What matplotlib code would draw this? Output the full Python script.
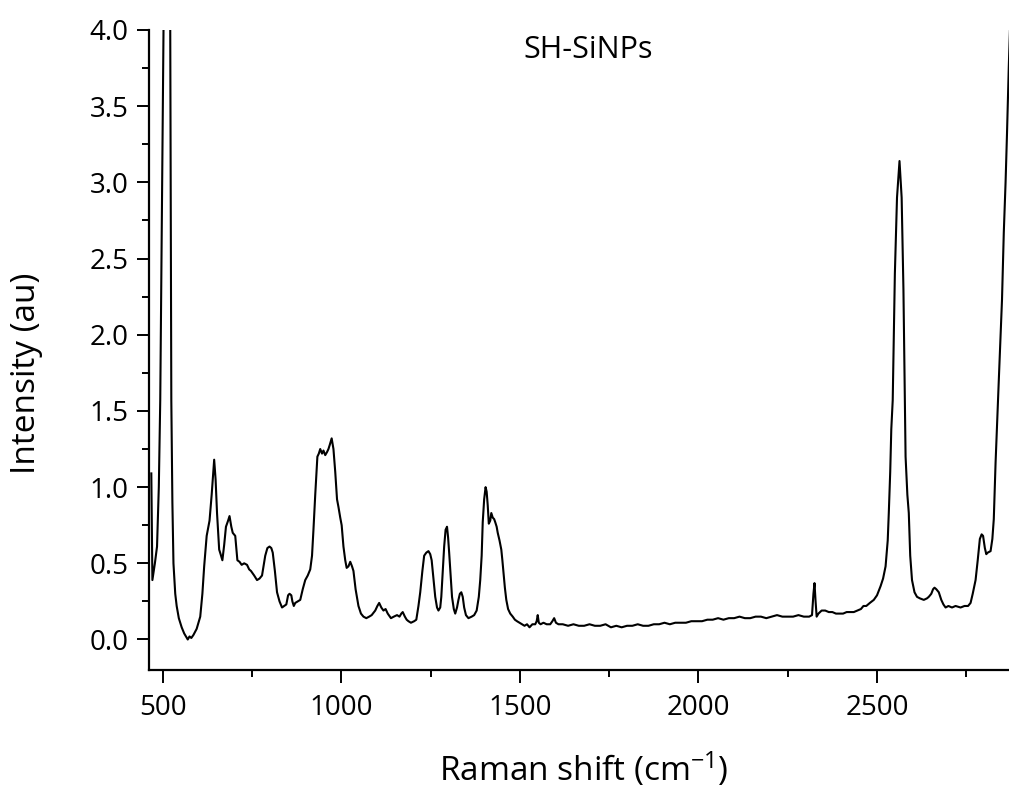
import matplotlib
matplotlib.use("Agg")
import matplotlib.pyplot as plt
from matplotlib.ticker import MultipleLocator, FormatStrFormatter

plt.rcParams['font.family'] = ['Open Sans', 'DejaVu Sans']
plt.rcParams['mathtext.default'] = 'regular'

# Raman spectrum of SH-SiNPs
raman_shift = [
    468, 471, 478, 484, 489, 493, 502, 511, 521, 524, 527, 530, 535, 539,
    545, 553, 560, 565, 570, 575, 580, 586, 595, 605, 611, 616, 623, 631,
    637, 644, 648, 652, 658, 662, 667, 672, 677, 683, 687, 692, 696, 703,
    709, 715, 721, 728, 736, 742, 747, 756, 764, 771, 778, 787, 793, 799,
    804, 808, 814, 820, 827, 834, 840, 846, 851, 855, 860, 863, 867, 871,
    878, 885, 892, 899, 906, 913, 918, 922, 927, 933, 937, 941, 946, 950,
    955, 960, 964, 968, 973, 978, 983, 988, 992, 997, 1001, 1006, 1011, 1015,
    1020, 1025, 1030, 1034, 1040, 1048, 1055, 1062, 1070, 1078, 1085, 1095, 1101, 1106,
    1112, 1118, 1124, 1130, 1139, 1147, 1156, 1163, 1168, 1172, 1178, 1183, 1188, 1195,
    1204, 1210, 1216, 1221, 1227, 1232, 1238, 1244, 1249, 1253, 1258, 1263, 1268, 1272,
    1277, 1280, 1284, 1288, 1292, 1296, 1299, 1302, 1306, 1310, 1315, 1319, 1324, 1328,
    1332, 1336, 1340, 1344, 1349, 1356, 1365, 1372, 1379, 1385, 1389, 1393, 1396, 1400,
    1404, 1407, 1410, 1413, 1417, 1420, 1424, 1428, 1431, 1435, 1438, 1443, 1448, 1451,
    1454, 1458, 1462, 1467, 1473, 1480, 1486, 1492, 1499, 1506, 1513, 1520, 1527, 1535,
    1543, 1547, 1550, 1553, 1558, 1566, 1575, 1585, 1591, 1596, 1601, 1608, 1620, 1635,
    1650, 1665, 1680, 1695, 1710, 1725, 1740, 1755, 1770, 1785, 1800, 1815, 1830, 1845,
    1860, 1875, 1890, 1905, 1920, 1935, 1950, 1965, 1980, 1995, 2010, 2025, 2040, 2055,
    2070, 2085, 2100, 2115, 2130, 2145, 2160, 2175, 2190, 2205, 2220, 2235, 2250, 2265,
    2280, 2295, 2310, 2318, 2322, 2325, 2328, 2331, 2336, 2345, 2355, 2365, 2375, 2385,
    2395, 2405, 2415, 2425, 2435, 2445, 2455, 2462, 2470, 2480, 2491, 2500, 2510, 2517,
    2524, 2530, 2533, 2537, 2540, 2544, 2550, 2556, 2563, 2569, 2574, 2578, 2580, 2585,
    2589, 2593, 2598, 2605, 2612, 2620, 2631, 2640, 2645, 2652, 2657, 2661, 2666, 2673,
    2680, 2686, 2692, 2700, 2710, 2720, 2734, 2745, 2755, 2762, 2768, 2776, 2782, 2788,
    2793, 2797, 2802, 2806, 2810, 2818, 2823, 2827, 2832, 2837, 2841, 2846, 2850, 2855,
    2860, 2864, 2869, 2875,
]
intensity = [
    1.09, 0.39, 0.50, 0.61, 1.00, 1.57, 4.00, 6.00, 4.00, 1.57, 0.90, 0.50, 0.30, 0.22,
    0.14, 0.08, 0.04, 0.02, 0.00, 0.02, 0.01, 0.03, 0.07, 0.15, 0.30, 0.48, 0.68, 0.78,
    0.95, 1.18, 1.05, 0.83, 0.59, 0.56, 0.52, 0.62, 0.74, 0.78, 0.81, 0.74, 0.70, 0.68,
    0.52, 0.51, 0.49, 0.50, 0.49, 0.46, 0.45, 0.42, 0.39, 0.40, 0.42, 0.55, 0.60, 0.61,
    0.60, 0.57, 0.45, 0.31, 0.25, 0.21, 0.22, 0.23, 0.29, 0.30, 0.29, 0.25, 0.22, 0.24,
    0.25, 0.26, 0.33, 0.39, 0.42, 0.46, 0.55, 0.72, 0.95, 1.20, 1.22, 1.25, 1.22, 1.24,
    1.21, 1.23, 1.25, 1.28, 1.32, 1.25, 1.10, 0.92, 0.87, 0.80, 0.75, 0.61, 0.52, 0.47,
    0.48, 0.51, 0.48, 0.45, 0.33, 0.22, 0.17, 0.15, 0.14, 0.15, 0.16, 0.19, 0.22, 0.24,
    0.21, 0.19, 0.20, 0.17, 0.14, 0.15, 0.16, 0.15, 0.17, 0.18, 0.15, 0.13, 0.12, 0.11,
    0.12, 0.13, 0.22, 0.31, 0.45, 0.55, 0.57, 0.58, 0.56, 0.52, 0.40, 0.28, 0.21, 0.19,
    0.21, 0.28, 0.45, 0.61, 0.72, 0.74, 0.67, 0.57, 0.42, 0.28, 0.20, 0.17, 0.21, 0.26,
    0.30, 0.31, 0.28, 0.21, 0.16, 0.14, 0.15, 0.16, 0.19, 0.28, 0.39, 0.55, 0.77, 0.92,
    1.00, 0.97, 0.88, 0.76, 0.78, 0.83, 0.80, 0.79, 0.77, 0.74, 0.70, 0.65, 0.59, 0.52,
    0.44, 0.34, 0.26, 0.20, 0.17, 0.15, 0.13, 0.12, 0.11, 0.10, 0.09, 0.10, 0.08, 0.10,
    0.10, 0.12, 0.16, 0.11, 0.10, 0.11, 0.10, 0.10, 0.12, 0.14, 0.11, 0.10, 0.10, 0.09,
    0.10, 0.09, 0.09, 0.10, 0.09, 0.09, 0.10, 0.08, 0.09, 0.08, 0.09, 0.09, 0.10, 0.09,
    0.09, 0.10, 0.10, 0.11, 0.10, 0.11, 0.11, 0.11, 0.12, 0.12, 0.12, 0.13, 0.13, 0.14,
    0.13, 0.14, 0.14, 0.15, 0.14, 0.14, 0.15, 0.15, 0.14, 0.15, 0.16, 0.15, 0.15, 0.15,
    0.16, 0.15, 0.15, 0.16, 0.30, 0.37, 0.25, 0.15, 0.17, 0.19, 0.19, 0.18, 0.18, 0.17,
    0.17, 0.17, 0.18, 0.18, 0.18, 0.19, 0.20, 0.22, 0.22, 0.24, 0.26, 0.29, 0.35, 0.40,
    0.48, 0.65, 0.83, 1.10, 1.38, 1.57, 2.40, 2.90, 3.14, 2.90, 2.30, 1.57, 1.20, 0.95,
    0.83, 0.55, 0.39, 0.31, 0.28, 0.27, 0.26, 0.27, 0.28, 0.30, 0.33, 0.34, 0.33, 0.31,
    0.26, 0.23, 0.21, 0.22, 0.21, 0.22, 0.21, 0.22, 0.22, 0.24, 0.30, 0.39, 0.52, 0.66,
    0.69, 0.68, 0.60, 0.56, 0.57, 0.58, 0.66, 0.79, 1.16, 1.45, 1.70, 2.00, 2.23, 2.67,
    3.00, 3.32, 3.76, 4.20,
]
assert len(raman_shift) == len(intensity)

sample_name = "SH-SiNPs"
x_major_ticks = [500, 1000, 1500, 2000, 2500]
y_major_ticks = [0.0, 0.5, 1.0, 1.5, 2.0, 2.5, 3.0, 3.5, 4.0]

fig = plt.figure(figsize=(10.09, 7.87), dpi=100)
ax = fig.add_axes([0.1477, 0.1487, 0.8523, 0.8132])

ax.plot(raman_shift, intensity, color='black', linewidth=1.5)

ax.set_xlim(461.6, 2869.6)
ax.set_ylim(-0.2, 4.0)
ax.set_xticks(x_major_ticks)
ax.set_yticks(y_major_ticks)
ax.xaxis.set_minor_locator(MultipleLocator(250))
ax.yaxis.set_minor_locator(MultipleLocator(0.25))
ax.yaxis.set_major_formatter(FormatStrFormatter('%.1f'))

# only left and bottom axes, like the original
ax.spines['top'].set_visible(False)
ax.spines['right'].set_visible(False)
for side in ['left', 'bottom']:
    ax.spines[side].set_linewidth(1.6)

ax.tick_params(which='major', direction='out', length=9, width=1.4,
               labelsize=20, pad=6)
ax.tick_params(which='minor', direction='out', length=5, width=1.4)
ax.tick_params(axis='x', which='major', pad=8)

ax.set_xlabel("Raman shift (cm$^{-1}$)", fontsize=24, va='center')
ax.xaxis.set_label_coords(0.505, -0.155)
ax.set_ylabel("Intensity (au)", fontsize=24, va='center')
ax.yaxis.set_label_coords(-0.142, 0.464)

ax.text(1691, 3.87, sample_name, fontsize=22, ha='center', va='center')

fig.savefig("out.png", dpi=100)
